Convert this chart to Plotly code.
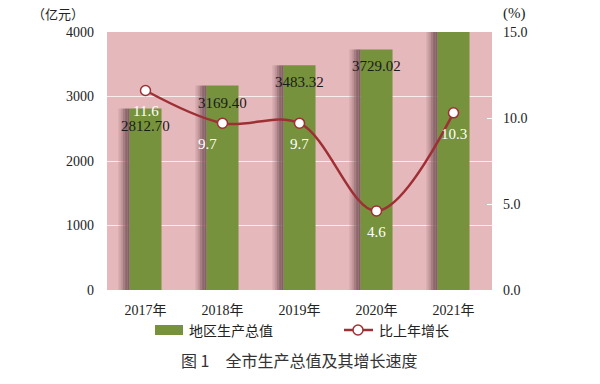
import plotly.graph_objects as go

years = ["2017年", "2018年", "2019年", "2020年", "2021年"]
gdp = [2812.70, 3169.40, 3483.32, 3729.02, 4169.90]
growth = [11.6, 9.7, 9.7, 4.6, 10.3]
gdp_labels = ["2812.70", "3169.40", "3483.32", "3729.02", "4169.90"]
growth_labels = ["11.6", "9.7", "9.7", "4.6", "10.3"]
left_ticks = [0, 1000, 2000, 3000, 4000]
right_ticks = [0, 5, 10, 15]
right_tick_text = ["0.0", "5.0", "10.0", "15.0"]

GREEN = "#76923c"
RED = "#9e3035"
PINK = "#e5b9bb"
SERIF = "Liberation Serif, Noto Sans CJK SC"
CJK = "Noto Sans CJK SC"

fig = go.Figure()

# shadow slices (gradient imitation)
shadow_cols = ["rgba(160,120,125,0.25)", "rgba(150,110,115,0.45)", "rgba(140,100,106,0.7)",
               "rgba(130,95,100,0.9)", "rgba(125,92,97,0.95)"]
sw = 0.029
for i, c in enumerate(shadow_cols):
    fig.add_trace(go.Bar(
        x=years, y=gdp, width=sw + 0.002, offset=-0.207 - (len(shadow_cols) - i) * sw,
        marker=dict(color=c, line=dict(width=0)), showlegend=False, hoverinfo="skip"))

fig.add_trace(go.Bar(
    x=years, y=gdp, width=0.415, offset=-0.207,
    marker=dict(color=GREEN, line=dict(width=0)), name="地区生产总值", showlegend=False))

fig.add_trace(go.Scatter(
    x=years, y=growth, yaxis="y2", mode="lines+markers",
    line=dict(color=RED, width=2.5, shape="spline"),
    marker=dict(size=10, color="white", line=dict(color=RED, width=1.5)),
    name="比上年增长", showlegend=False))


def px(xp):
    return (xp - 107) / 385


def py(yp):
    return (290 - yp) / 258


ann = []
for x, v, t in zip(years, gdp, gdp_labels):
    ann.append(dict(x=x, y=v, xref="x", yref="y", text=t, showarrow=False, yshift=-17,
                    font=dict(family=SERIF, size=15, color="#1a1a1a")))
gx_shift = [0, -15, 0, 0, 0]
for x, v, t, s in zip(years, growth, growth_labels, gx_shift):
    ann.append(dict(x=x, y=v, xref="x", yref="y2", text=t, showarrow=False, yshift=-21, xshift=s,
                    font=dict(family=SERIF, size=15, color="white")))


def pann(xp, yp, text, font, xanchor="center"):
    return dict(x=px(xp), y=py(yp), xref="paper", yref="paper", text=text, showarrow=False,
                xanchor=xanchor, yanchor="middle", font=font)


ann.append(pann(58, 13, "（亿元）", dict(family=CJK, size=13, color="#222")))
ann.append(pann(514, 13, "(%)", dict(family=SERIF, size=15, color="#222")))
ann.append(pann(187, 330, "地区生产总值", dict(family=CJK, size=14, color="#222"), "left"))
ann.append(pann(377, 330, "比上年增长", dict(family=CJK, size=14, color="#222"), "left"))
ann.append(pann(299, 360, "图 1　全市生产总值及其增长速度", dict(family=CJK, size=16, color="#333")))

shapes = [
    dict(type="rect", xref="paper", yref="paper", x0=px(155), x1=px(183), y0=py(335), y1=py(325),
         fillcolor=GREEN, line=dict(width=0)),
    dict(type="line", xref="paper", yref="paper", x0=px(344), x1=px(373), y0=py(330), y1=py(330),
         line=dict(color=RED, width=2.5)),
    dict(type="circle", xref="paper", yref="paper", x0=px(353), x1=px(363), y0=py(335), y1=py(325),
         fillcolor="white", line=dict(color=RED, width=1.5)),
]

fig.update_layout(
    width=600, height=384,
    margin=dict(l=107, r=108, t=32, b=94, autoexpand=False),
    paper_bgcolor="white", plot_bgcolor=PINK,
    barmode="overlay", showlegend=False,
    annotations=ann, shapes=shapes,
    xaxis=dict(showgrid=False, showline=False, ticks="", automargin=False, ticklabelstandoff=10,
               tickfont=dict(family=SERIF, size=14, color="#222")),
    yaxis=dict(range=[0, 4000], tickvals=left_ticks, showgrid=True, gridcolor="rgba(255,255,255,0.75)",
               gridwidth=1, zeroline=False, showline=False, ticks="", ticklabelstandoff=12, automargin=False,
               tickfont=dict(family=SERIF, size=14, color="#222")),
    yaxis2=dict(range=[0, 15], overlaying="y", side="right", tickvals=right_ticks, ticktext=right_tick_text,
                showgrid=False, zeroline=False, showline=False, ticks="inside", ticklen=5, tickcolor="white",
                ticklabelstandoff=10, automargin=False, tickfont=dict(family=SERIF, size=14, color="#222")),
)

fig.write_html("out.html", config={"displayModeBar": False},
               post_script="document.body.style.margin='0';document.body.style.padding='0';")
